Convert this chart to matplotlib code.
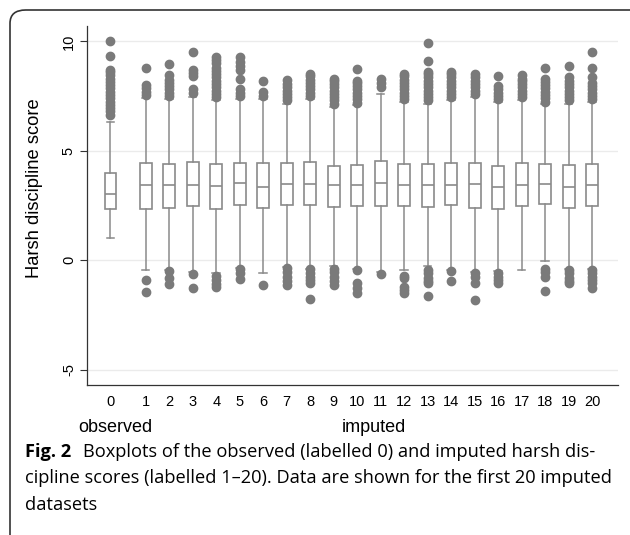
import matplotlib
matplotlib.use("Agg")
import matplotlib.pyplot as plt
from matplotlib.patches import FancyBboxPatch
from matplotlib.transforms import blended_transform_factory

labels = [str(i) for i in range(21)]
q1  = [2.33, 2.36, 2.40, 2.47, 2.33, 2.54, 2.40, 2.54, 2.54, 2.43, 2.47,
       2.48, 2.47, 2.43, 2.51, 2.40, 2.33, 2.47, 2.56, 2.40, 2.48]
med = [3.03, 3.42, 3.45, 3.42, 3.39, 3.53, 3.35, 3.47, 3.50, 3.42, 3.42,
       3.53, 3.42, 3.42, 3.42, 3.47, 3.35, 3.42, 3.47, 3.35, 3.42]
q3  = [4.00, 4.44, 4.41, 4.49, 4.41, 4.46, 4.44, 4.44, 4.49, 4.29, 4.34,
       4.52, 4.41, 4.38, 4.44, 4.44, 4.31, 4.44, 4.41, 4.34, 4.38]
wlo = [1.00, -0.46, -0.46, -0.55, -0.60, -0.35, -0.58, -0.30, -0.38, -0.26, -0.38,
       -0.55, -0.43, -0.26, -0.45, -0.55, -0.50, -0.43, -0.05, -0.40, -0.40]
whi = [6.33, 7.41, 7.38, 7.46, 7.31, 7.38, 7.38, 7.15, 7.38, 7.00, 7.08,
       7.58, 7.23, 7.15, 7.31, 7.46, 7.23, 7.31, 7.12, 7.15, 7.23]
out_hi = [
    [6.65, 6.8, 6.95, 7.1, 7.25, 7.4, 7.55, 7.7, 7.85, 8.0, 8.15, 8.3, 8.45, 8.6, 8.7, 9.35, 10.0],
    [7.55, 7.7, 7.85, 8.0, 8.8],
    [7.5, 7.65, 7.8, 7.95, 8.1, 8.25, 8.45, 8.98],
    [7.65, 7.84, 8.4, 8.55, 8.68, 9.51],
    [7.45, 7.6, 7.75, 7.9, 8.05, 8.2, 8.35, 8.5, 8.65, 8.8, 9.0, 9.15, 9.28],
    [7.5, 7.65, 7.84, 8.3, 8.68, 8.85, 9.05, 9.28],
    [7.5, 7.69, 8.17],
    [7.3, 7.45, 7.6, 7.75, 7.9, 8.05, 8.22],
    [7.5, 7.65, 7.8, 7.95, 8.1, 8.25, 8.4, 8.52],
    [7.15, 7.3, 7.45, 7.6, 7.75, 7.9, 8.05, 8.2, 8.3],
    [7.2, 7.35, 7.5, 7.65, 7.8, 7.95, 8.1, 8.2, 8.75],
    [7.92, 8.1, 8.3],
    [7.35, 7.5, 7.65, 7.8, 7.95, 8.1, 8.25, 8.4, 8.52],
    [7.3, 7.45, 7.6, 7.75, 7.9, 8.05, 8.2, 8.35, 8.5, 8.6, 9.09, 9.94],
    [7.45, 7.6, 7.75, 7.9, 8.05, 8.2, 8.35, 8.5, 8.6],
    [7.6, 7.75, 7.9, 8.05, 8.2, 8.35, 8.52],
    [7.35, 7.5, 7.65, 7.8, 7.95, 8.41],
    [7.45, 7.6, 7.75, 7.9, 8.05, 8.2, 8.3, 8.45],
    [7.25, 7.4, 7.55, 7.7, 7.85, 8.0, 8.15, 8.3, 8.8],
    [7.3, 7.45, 7.6, 7.75, 7.9, 8.05, 8.2, 8.35, 8.86],
    [7.35, 7.5, 7.65, 7.8, 7.95, 8.1, 8.37, 8.8, 9.51],
]
out_lo = [
    [],
    [-0.91, -1.45],
    [-0.5, -0.8, -1.1],
    [-0.65, -1.27],
    [-0.7, -0.9, -1.1, -1.22],
    [-0.4, -0.6, -0.84],
    [-1.14],
    [-0.35, -0.55, -0.75, -0.95, -1.14],
    [-0.42, -0.6, -0.75, -0.9, -1.06, -1.75],
    [-0.38, -0.55, -0.75, -0.95, -1.14],
    [-0.43, -1.06, -1.25, -1.52],
    [-0.64],
    [-0.7, -0.8, -1.22, -1.35, -1.52],
    [-0.43, -0.6, -0.8, -0.95, -1.06, -1.63],
    [-0.5, -0.94],
    [-0.6, -0.75, -1.06, -1.83],
    [-0.58, -0.75, -0.9, -1.06],
    [],
    [-0.38, -0.55, -0.76, -1.4],
    [-0.43, -0.6, -0.8, -0.95, -1.06],
    [-0.43, -0.6, -0.75, -0.9, -1.06, -1.29],
]
yticks = [-5, 0, 5, 10]
ylabel = "Harsh discipline score"
group_labels = ["observed", "imputed"]
caption_bold = "Fig. 2"
caption_lines = [
    "Boxplots of the observed (labelled 0) and imputed harsh dis-",
    "cipline scores (labelled 1\u201320). Data are shown for the first 20 imputed",
    "datasets",
]

W, H = 630, 535
plt.rcParams['font.family'] = ['Liberation Sans', 'DejaVu Sans']
fig = plt.figure(figsize=(W / 100, H / 100), dpi=100)

# outer rounded frame (bottom and right edges fall outside the image)
frame = FancyBboxPatch((10 / W, -14 / H), (646 - 10) / W, (525 + 14) / H,
                       boxstyle="round,pad=0,rounding_size=0.025",
                       transform=fig.transFigure, fill=False,
                       edgecolor="#333333", linewidth=1.2, clip_on=False)
fig.patches.append(frame)

ax = fig.add_axes([87 / W, (H - 385) / H, (618 - 87) / W, (385 - 26) / H])

positions = [-0.5] + list(range(1, 21))
stats = []
for i in range(len(labels)):
    stats.append(dict(med=med[i], q1=q1[i], q3=q3[i], whislo=wlo[i], whishi=whi[i],
                      fliers=out_hi[i] + out_lo[i], label=labels[i]))

gray = "#8a8a8a"
ax.bxp(stats, positions=positions, widths=0.5, capwidths=0.32, patch_artist=True,
       boxprops=dict(facecolor="white", edgecolor=gray, linewidth=1.2),
       medianprops=dict(color=gray, linewidth=1.2),
       whiskerprops=dict(color=gray, linewidth=1.1),
       capprops=dict(color=gray, linewidth=1.1),
       flierprops=dict(marker="o", markersize=6, markerfacecolor="#7a7a7a",
                       markeredgecolor="#7a7a7a", linestyle="none"),
       zorder=3)

ax.set_xlim(-1.5, 21.1)
ax.set_ylim(-5.7, 10.7)
ax.set_yticks(yticks)
ax.set_yticklabels([str(t) for t in yticks], rotation=90, va="center", fontsize=10.5)
ax.tick_params(axis="y", length=5, width=0.8, color="#333333", pad=3)
ax.set_xticks(positions)
ax.set_xticklabels(labels, fontsize=10.5)
ax.tick_params(axis="x", length=0, pad=7)
ax.grid(axis="y", color="#ebebeb", linewidth=1.0, zorder=0)
ax.set_axisbelow(True)
for s in ["top", "right"]:
    ax.spines[s].set_visible(False)
for s in ["left", "bottom"]:
    ax.spines[s].set_color("#333333")
    ax.spines[s].set_linewidth(0.9)
ax.set_ylabel(ylabel, fontsize=13.2)
ax.yaxis.set_label_coords(-(87 - 43) / (618 - 87), (385 - 188) / (385 - 26))

tr = blended_transform_factory(ax.transData, fig.transFigure)
ax.text(-0.3, (H - 428) / H, group_labels[0], transform=tr, ha="center", va="center",
        fontsize=13, clip_on=False)
ax.text(10.7, (H - 428) / H, group_labels[1], transform=tr, ha="center", va="center",
        fontsize=13, clip_on=False)

# caption: size chosen so the second line spans the text block width
cap_font = ['Open Sans', 'DejaVu Sans']
fig.canvas.draw()
r = fig.canvas.get_renderer()
probe = fig.text(0, 0, caption_lines[1], fontsize=10, family=cap_font)
pw = probe.get_window_extent(renderer=r).width
probe.remove()
cap_size = 10 * (612 - 25) / pw

tb = fig.text(25 / W, (H - 452) / H, caption_bold, fontsize=cap_size, fontweight="bold",
              family=cap_font, va="center", ha="left")
bb = tb.get_window_extent(renderer=r)
fig.text((bb.x1 + 12) / W, (H - 452) / H, caption_lines[0], fontsize=cap_size,
         family=cap_font, va="center", ha="left")
fig.text(25 / W, (H - 478) / H, caption_lines[1], fontsize=cap_size,
         family=cap_font, va="center", ha="left")
fig.text(25 / W, (H - 505) / H, caption_lines[2], fontsize=cap_size,
         family=cap_font, va="center", ha="left")

fig.savefig("out.png", dpi=100)
